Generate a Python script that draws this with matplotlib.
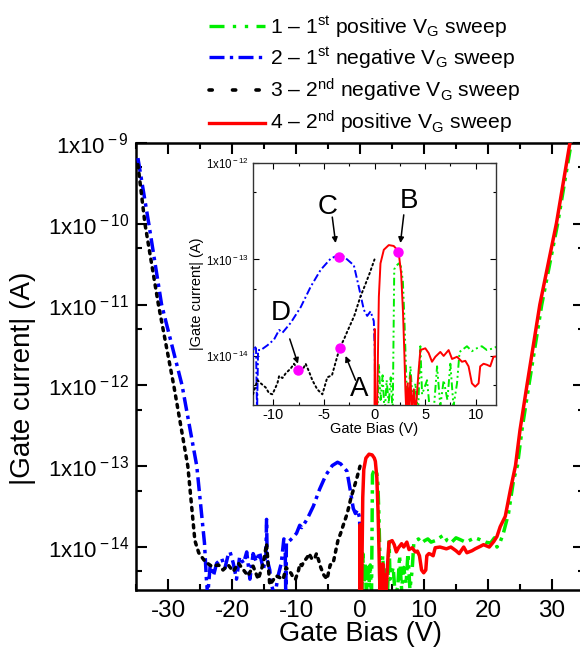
import numpy as np
import matplotlib
matplotlib.use("Agg")
import matplotlib.pyplot as plt
from matplotlib.ticker import FixedLocator, FuncFormatter, LogLocator, NullFormatter
from matplotlib.lines import Line2D

plt.rcParams['font.family'] = ['Liberation Sans', 'DejaVu Sans']
plt.rcParams['mathtext.fontset'] = 'custom'
plt.rcParams['mathtext.rm'] = 'Liberation Sans'
plt.rcParams['mathtext.it'] = 'Liberation Sans:italic'
plt.rcParams['mathtext.bf'] = 'Liberation Sans:bold'

# ---------------- data (gate bias V, |gate current| A) ----------------
# 1 - 1st positive VG sweep (green)
green_v = [0.30, 0.43, 0.6, 0.8, 1.0, 1.2, 1.4, 1.6, 1.8, 1.95, 2.1, 2.4, 2.6, 2.8, 2.95,
           3.1, 3.25, 3.55, 3.8, 4.04, 4.3, 4.53, 4.7, 5.19, 5.5, 5.9, 6.18, 6.5, 6.83,
           7.2, 7.49, 7.8, 8.15, 8.4, 8.64, 9.13, 9.62, 10.1, 10.6, 11.1, 11.75, 12.4,
           13.1, 13.6, 14.2, 15.0, 15.7, 16.5, 17.3, 18.0, 18.8, 19.6, 20.4, 21.0, 21.4,
           21.8, 22.4, 23.2, 24.0, 24.6, 25.3, 26.4, 28.4, 30.9, 33.0, 34.2]
green_i = [2.5e-15, 8.3e-15, 3.5e-15, 6.3e-15, 2.5e-15, 5.6e-15, 3.2e-15, 6.0e-15, 2.5e-15,
           7.9e-14, 8.5e-14, 9.1e-14, 8.5e-14, 6.0e-14, 2.5e-14,
           8.0e-15, 2.5e-15, 7.8e-15, 3.0e-15, 5.2e-15, 2.5e-15, 1.26e-14, 4.0e-15, 5.6e-15,
           2.5e-15, 3.2e-15, 7.8e-15, 3.0e-15, 5.6e-15,
           3.5e-15, 8.3e-15, 3.0e-15, 5.2e-15, 1.1e-14, 1.15e-14, 1.26e-14, 1.12e-14, 1.2e-14,
           1.26e-14, 1.15e-14, 1.2e-14, 1.3e-14,
           1.41e-14, 1.2e-14, 1.12e-14, 1.3e-14, 1.23e-14, 1.15e-14, 1.23e-14, 1.3e-14,
           1.23e-14, 1.15e-14, 1.12e-14, 1.3e-14, 1.0e-14,
           1.1e-14, 1.48e-14, 2.6e-14, 6.8e-14, 1.02e-13, 2.8e-13, 1.02e-12, 1.0e-11,
           1.02e-10, 1.0e-9, 3.5e-9]

# 2 - 1st negative VG sweep (blue)
blue_v = [-34.7, -33.0, -31.0, -27.8, -25.5, -24.3, -24.0, -23.8, -23.4, -22.9, -22.4,
          -21.6, -21.1, -20.6, -20.3, -19.8, -19.3, -18.8, -18.2, -17.7, -17.2, -16.7,
          -16.2, -15.7, -15.1, -14.7, -14.6, -14.5, -14.1, -13.9, -13.3, -12.8, -12.3,
          -11.9, -11.7, -11.6, -11.5, -11.23, -10.57, -9.92, -9.42, -9.09, -8.28, -7.29,
          -6.31, -5.32, -4.33, -3.51, -3.02, -2.04, -1.55, -1.05, -0.72, -0.39, -0.07,
          0.03, 0.06]
blue_i = [6.5e-10, 1.0e-10, 1.0e-11, 1.0e-12, 1.0e-13, 1.12e-14, 4.0e-15, 2.5e-15, 6.0e-15,
          4.4e-15, 6.3e-15,
          7.2e-15, 5.5e-15, 8.0e-15, 8.7e-15, 6.3e-15, 4.0e-15, 7.6e-15, 6.3e-15, 8.7e-15,
          4.0e-15, 8.3e-15,
          6.6e-15, 8.7e-15, 5.2e-15, 8.0e-15, 2.2e-14, 7.0e-15, 5.2e-15, 3.5e-15, 2.5e-15,
          4.4e-15, 6.3e-15,
          1.26e-14, 1.2e-14, 2.5e-15, 1.15e-14, 1.15e-14, 1.29e-14, 1.48e-14, 1.86e-14,
          1.74e-14, 2.2e-14, 3.2e-14,
          5.2e-14, 7.8e-14, 1.02e-13, 1.12e-13, 1.07e-13, 8.7e-14, 5.2e-14, 3.0e-14, 2.6e-14,
          2.9e-14, 2.3e-14,
          1.15e-14, 2.5e-15]

# 3 - 2nd negative VG sweep (black)
black_v = [-34.7, -33.6, -31.5, -29.1, -26.9, -25.8, -25.2, -24.2, -23.2, -22.1, -21.4,
           -20.6, -19.8, -19.0, -18.2, -17.5, -16.7, -15.9, -15.1, -14.6, -14.1, -13.1,
           -12.0, -11.56, -11.23, -10.74, -10.41, -10.08, -9.59, -9.42, -9.09, -8.77,
           -8.28, -7.95, -7.55, -7.12, -6.8, -6.47, -6.14, -5.65, -5.15, -4.66, -4.2,
           -3.8, -3.45, -3.0, -2.7, -2.0, -1.4, -1.0, -0.5, 0.0]
black_i = [5.4e-10, 1.0e-10, 1.0e-11, 1.0e-12, 1.0e-13, 1.2e-14, 8.5e-15, 6.6e-15, 5.8e-15,
           6.0e-15, 5.2e-15,
           6.0e-15, 5.0e-15, 6.3e-15, 5.2e-15, 4.4e-15, 5.8e-15, 4.0e-15, 6.3e-15, 1.1e-14,
           3.4e-15, 4.4e-15,
           4.0e-15, 5.6e-15, 5.2e-15, 4.7e-15, 4.1e-15, 4.0e-15, 5.2e-15, 6.2e-15, 5.9e-15,
           6.6e-15,
           7.4e-15, 8.3e-15, 7.2e-15, 7.1e-15, 8.3e-15, 6.9e-15, 5.6e-15, 4.5e-15, 4.0e-15,
           6.0e-15, 6.3e-15,
           8.9e-15, 1.2e-14, 1.5e-14, 1.78e-14, 2.6e-14, 4.1e-14, 5.2e-14, 7.1e-14, 1.0e-13]

# 4 - 2nd positive VG sweep (red)
red_v = [0.00, 0.03, 0.08, 0.26, 0.43, 0.59, 0.92, 1.41, 1.90, 2.24, 2.40, 2.63, 2.82,
         2.96, 3.05, 3.15, 3.28, 3.40, 3.55, 3.70, 3.87, 4.05, 4.36, 4.53, 5.02, 5.35,
         5.68, 6.01, 6.50, 6.83, 7.32, 7.66, 8.15, 8.64, 8.97, 9.29, 9.62, 9.95, 10.28,
         10.44, 10.77, 11.10, 11.43, 11.75, 12.5, 13.5, 14.2, 15.0, 15.5, 16.2, 16.7,
         17.5, 18.0, 18.8, 19.3, 20.2, 20.9, 21.4, 21.9, 22.7, 23.5, 24.3, 25.0, 26.1,
         28.1, 30.7, 32.8, 34.0]
red_i = [2.5e-15, 1.9e-14, 2.5e-15, 3.0e-15, 4.1e-14, 9.1e-14, 1.26e-13, 1.41e-13, 1.38e-13,
         1.26e-13, 1.15e-13, 7.2e-14, 2.75e-14,
         9.8e-15, 4.5e-15, 2.5e-15, 5.2e-15, 2.5e-15, 6.2e-15, 2.5e-15, 4.5e-15, 2.5e-15,
         7.1e-15, 1.15e-14, 1.2e-14, 1.07e-14,
         8.7e-15, 9.8e-15, 1.1e-14, 1.0e-14, 1.15e-14, 9.3e-15, 9.8e-15, 8.7e-15, 8.9e-15,
         7.8e-15, 5.2e-15, 4.8e-15, 5.2e-15,
         7.8e-15, 8.3e-15, 8.1e-15, 7.8e-15, 9.8e-15, 1.0e-14, 9.5e-15, 1.0e-14, 9.0e-15,
         8.3e-15, 1.0e-14, 8.5e-15,
         9.0e-15, 9.5e-15, 1.02e-14, 1.07e-14, 1.0e-14, 1.17e-14, 1.35e-14, 1.78e-14,
         2.4e-14, 5.1e-14, 1.02e-13, 2.8e-13, 1.02e-12,
         1.0e-11, 1.02e-10, 1.0e-9, 3.5e-9]

# marked points A, B, C, D in the inset
point_labels = ['A', 'B', 'C', 'D']
point_v = [-3.45, 2.33, -3.55, -7.55]
point_i = [1.2e-14, 1.2e-13, 1.05e-13, 7.2e-15]
# label positions and arrow start/end
label_v = [-1.48, 3.38, -4.66, -9.26]
label_i = [4.5e-15, 4.0e-13, 3.5e-13, 2.8e-14]
arrow_from_v = [-1.87, 2.89, -4.17, -8.37]
arrow_from_i = [5.6e-15, 2.9e-13, 2.75e-13, 1.5e-14]
arrow_to_v = [-2.86, 2.56, -3.84, -7.56]
arrow_to_i = [1.0e-14, 1.48e-13, 1.48e-13, 8.3e-15]

legend_labels = [r'1 – 1$^{\rm st}$ positive V$_{\rm G}$ sweep',
                 r'2 – 1$^{\rm st}$ negative V$_{\rm G}$ sweep',
                 r'3 – 2$^{\rm nd}$ negative V$_{\rm G}$ sweep',
                 r'4 – 2$^{\rm nd}$ positive V$_{\rm G}$ sweep']

main_xticks = [-30, -20, -10, 0, 10, 20, 30]
inset_xticks = [-10, -5, 0, 5, 10]

# ---------------- styles ----------------
GREEN = '#00ee00'
BLUE = '#0000ff'
BLACK = '#000000'
RED = '#ff0000'
ls_green = (0, (4, 1.6, 1, 1.6, 1, 1.6))
ls_blue = (0, (4, 1.4, 1, 1.4))
ls_black = (0, (0.9, 1.6))

W, H = 580, 651
fig = plt.figure(figsize=(W / 100, H / 100), dpi=100)

# main axes
ax = fig.add_axes([136 / W, 1 - 590 / H, (584 - 136) / W, (590 - 143) / H])
lw = 2.5
ax.plot(green_v, green_i, color=GREEN, lw=lw, ls=ls_green, zorder=2)
ax.plot(blue_v, blue_i, color=BLUE, lw=lw, ls=ls_blue, zorder=3)
ax.plot(black_v, black_i, color=BLACK, lw=lw, ls=ls_black, dash_capstyle='round', zorder=4)
ax.plot(red_v, red_i, color=RED, lw=lw, zorder=5)

ax.set_yscale('log')
ax.set_xlim(-35, 35)
ax.set_ylim(2.94e-15, 1e-9)
ax.xaxis.set_major_locator(FixedLocator(main_xticks))
ax.xaxis.set_minor_locator(FixedLocator([-35, -25, -15, -5, 5, 15, 25, 35]))
ax.xaxis.set_major_formatter(FuncFormatter(lambda v, p: f"{v:.0f}"))
ax.yaxis.set_major_locator(LogLocator(base=10, numticks=20))
ax.yaxis.set_minor_locator(LogLocator(base=10, subs=[5.0], numticks=20))
ax.yaxis.set_minor_formatter(NullFormatter())
ax.yaxis.set_major_formatter(FuncFormatter(
    lambda v, p: r"1x10$^{\rm %d}$" % int(np.round(np.log10(v)))))
ax.tick_params(which='both', direction='in', top=True, right=True, width=1.5)
ax.tick_params(which='major', length=8)
ax.tick_params(which='minor', length=4.5)
ax.tick_params(axis='x', labelsize=17.5, pad=7)
ax.tick_params(axis='y', labelsize=16, pad=5)
for s in ax.spines.values():
    s.set_linewidth(1.8)
ax.set_xlabel('Gate Bias (V)', fontsize=19.5, va='center')
ax.xaxis.set_label_coords(0.5, -(634 - 590) / 447)
ax.set_ylabel('|Gate current| (A)', fontsize=20, va='center')
ax.yaxis.set_label_coords((23 - 136) / 448, (590 - 378) / 447)

# legend above the plot
handles = [Line2D([], [], color=GREEN, lw=2.4, ls=(0, (4.5, 2.5, 1, 2.6, 1, 2.5))),
           Line2D([], [], color=BLUE, lw=2.4, ls=(0, (4.5, 1.6, 1, 1.6))),
           Line2D([], [], color=BLACK, lw=2.6, ls=(0, (0.9, 5.6)), dash_capstyle='round'),
           Line2D([], [], color=RED, lw=2.4)]
fig.legend(handles, legend_labels, loc='upper left', bbox_to_anchor=(209 / W, 1 - 14 / H),
           frameon=False, fontsize=15.2, handlelength=2.65, handletextpad=0.25,
           labelspacing=0.27, borderpad=0, borderaxespad=0)

# inset axes
axi = fig.add_axes([253 / W, 1 - 405 / H, (496 - 253) / W, (405 - 163) / H], zorder=10)
axi.set_facecolor('white')
lwi = 1.4
axi.plot(green_v, green_i, color=GREEN, lw=lwi, ls=ls_green, zorder=2)
axi.plot(blue_v, blue_i, color=BLUE, lw=lwi, ls=ls_blue, zorder=3)
axi.plot(black_v, black_i, color=BLACK, lw=lwi, ls=ls_black, dash_capstyle='round', zorder=4)
axi.plot(red_v, red_i, color=RED, lw=lwi, zorder=5)
axi.plot(point_v, point_i, 'o', color='#ff00ff', ms=6.5, mec='#ff00ff', zorder=7, ls='none')
for lab, lv, li, fv, fi, tv, ti in zip(point_labels, label_v, label_i, arrow_from_v,
                                       arrow_from_i, arrow_to_v, arrow_to_i):
    axi.text(lv, li, lab, fontsize=20, ha='center', va='center', zorder=8)
    axi.annotate('', xy=(tv, ti), xytext=(fv, fi),
                 arrowprops=dict(arrowstyle='-|>', color='black', lw=1.1,
                                 mutation_scale=8, shrinkA=0, shrinkB=0), zorder=8)
axi.set_yscale('log')
axi.set_xlim(-12, 12)
axi.set_ylim(3.1e-15, 1e-12)
axi.xaxis.set_major_locator(FixedLocator(inset_xticks))
axi.xaxis.set_minor_locator(FixedLocator([-7.5, -2.5, 2.5, 7.5]))
axi.xaxis.set_major_formatter(FuncFormatter(lambda v, p: f"{v:.0f}"))
axi.yaxis.set_major_locator(LogLocator(base=10, numticks=20))
axi.yaxis.set_minor_locator(LogLocator(base=10, subs=[5.0], numticks=20))
axi.yaxis.set_minor_formatter(NullFormatter())
axi.yaxis.set_major_formatter(FuncFormatter(
    lambda v, p: r"1x10$^{\rm %d}$" % int(np.round(np.log10(v)))))
axi.tick_params(which='both', direction='in', top=True, right=True, width=0.8)
axi.tick_params(which='major', length=4.5)
axi.tick_params(which='minor', length=2.5)
axi.tick_params(axis='x', labelsize=10.5, pad=2)
axi.tick_params(axis='y', labelsize=8.3, pad=3)
for s in axi.spines.values():
    s.set_linewidth(1.0)
    s.set_color('#333333')
axi.set_xlabel('Gate Bias (V)', fontsize=10.5, labelpad=0)
axi.set_ylabel('|Gate current| (A)', fontsize=10.5, va='center')
axi.yaxis.set_label_coords((197 - 253) / 243, (405 - 294) / 242)

fig.savefig('out.png', dpi=100)
